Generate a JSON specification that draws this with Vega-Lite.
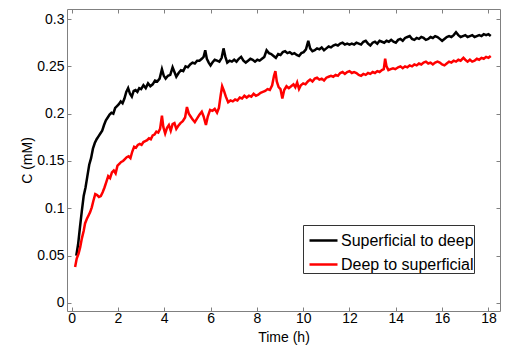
{
  "$schema": "https://vega.github.io/schema/vega-lite/v6.json",
  "width": 433,
  "height": 302,
  "autosize": {"type": "none"},
  "padding": {"left": 67, "top": 9, "right": 9, "bottom": 36},
  "background": "white",
  "config": {
    "view": {"stroke": "#808080", "strokeWidth": 1},
    "font": "Liberation Sans",
    "axis": {
      "labelFont": "Liberation Sans", "labelFontSize": 14, "labelColor": "black",
      "titleFont": "Liberation Sans", "titleFontSize": 14, "titleFontWeight": "normal", "titleColor": "black",
      "domain": false, "grid": false, "tickColor": "#808080", "tickSize": -4, "tickWidth": 1
    }
  },
  "data": {"values": [
    {"t":0.2,"c":0.050,"s":"Superficial to deep"},{"t":0.28,"c":0.062,"s":"Superficial to deep"},{"t":0.36,"c":0.080,"s":"Superficial to deep"},{"t":0.44,"c":0.097,"s":"Superficial to deep"},{"t":0.52,"c":0.113,"s":"Superficial to deep"},{"t":0.6,"c":0.122,"s":"Superficial to deep"},{"t":0.68,"c":0.134,"s":"Superficial to deep"},{"t":0.76,"c":0.146,"s":"Superficial to deep"},{"t":0.84,"c":0.153,"s":"Superficial to deep"},{"t":0.92,"c":0.163,"s":"Superficial to deep"},{"t":1.0,"c":0.169,"s":"Superficial to deep"},{"t":1.08,"c":0.173,"s":"Superficial to deep"},{"t":1.16,"c":0.176,"s":"Superficial to deep"},{"t":1.24,"c":0.179,"s":"Superficial to deep"},{"t":1.32,"c":0.182,"s":"Superficial to deep"},{"t":1.4,"c":0.188,"s":"Superficial to deep"},{"t":1.48,"c":0.193,"s":"Superficial to deep"},{"t":1.56,"c":0.196,"s":"Superficial to deep"},{"t":1.64,"c":0.199,"s":"Superficial to deep"},{"t":1.72,"c":0.201,"s":"Superficial to deep"},{"t":1.8,"c":0.200,"s":"Superficial to deep"},{"t":1.88,"c":0.206,"s":"Superficial to deep"},{"t":1.96,"c":0.208,"s":"Superficial to deep"},{"t":2.04,"c":0.210,"s":"Superficial to deep"},{"t":2.12,"c":0.213,"s":"Superficial to deep"},{"t":2.2,"c":0.211,"s":"Superficial to deep"},{"t":2.28,"c":0.216,"s":"Superficial to deep"},{"t":2.36,"c":0.223,"s":"Superficial to deep"},{"t":2.44,"c":0.227,"s":"Superficial to deep"},{"t":2.52,"c":0.221,"s":"Superficial to deep"},{"t":2.6,"c":0.218,"s":"Superficial to deep"},{"t":2.68,"c":0.224,"s":"Superficial to deep"},{"t":2.76,"c":0.225,"s":"Superficial to deep"},{"t":2.84,"c":0.223,"s":"Superficial to deep"},{"t":2.92,"c":0.227,"s":"Superficial to deep"},{"t":3.0,"c":0.226,"s":"Superficial to deep"},{"t":3.1,"c":0.230,"s":"Superficial to deep"},{"t":3.2,"c":0.227,"s":"Superficial to deep"},{"t":3.3,"c":0.232,"s":"Superficial to deep"},{"t":3.4,"c":0.229,"s":"Superficial to deep"},{"t":3.5,"c":0.231,"s":"Superficial to deep"},{"t":3.6,"c":0.235,"s":"Superficial to deep"},{"t":3.7,"c":0.234,"s":"Superficial to deep"},{"t":3.8,"c":0.237,"s":"Superficial to deep"},{"t":3.9,"c":0.247,"s":"Superficial to deep"},{"t":3.98,"c":0.240,"s":"Superficial to deep"},{"t":4.06,"c":0.237,"s":"Superficial to deep"},{"t":4.16,"c":0.240,"s":"Superficial to deep"},{"t":4.26,"c":0.241,"s":"Superficial to deep"},{"t":4.36,"c":0.249,"s":"Superficial to deep"},{"t":4.44,"c":0.244,"s":"Superficial to deep"},{"t":4.52,"c":0.239,"s":"Superficial to deep"},{"t":4.62,"c":0.243,"s":"Superficial to deep"},{"t":4.72,"c":0.246,"s":"Superficial to deep"},{"t":4.82,"c":0.245,"s":"Superficial to deep"},{"t":4.92,"c":0.250,"s":"Superficial to deep"},{"t":5.02,"c":0.249,"s":"Superficial to deep"},{"t":5.12,"c":0.252,"s":"Superficial to deep"},{"t":5.22,"c":0.254,"s":"Superficial to deep"},{"t":5.32,"c":0.253,"s":"Superficial to deep"},{"t":5.42,"c":0.256,"s":"Superficial to deep"},{"t":5.52,"c":0.256,"s":"Superficial to deep"},{"t":5.62,"c":0.258,"s":"Superficial to deep"},{"t":5.7,"c":0.260,"s":"Superficial to deep"},{"t":5.77,"c":0.267,"s":"Superficial to deep"},{"t":5.84,"c":0.258,"s":"Superficial to deep"},{"t":5.92,"c":0.254,"s":"Superficial to deep"},{"t":6.0,"c":0.251,"s":"Superficial to deep"},{"t":6.08,"c":0.254,"s":"Superficial to deep"},{"t":6.18,"c":0.257,"s":"Superficial to deep"},{"t":6.28,"c":0.256,"s":"Superficial to deep"},{"t":6.38,"c":0.255,"s":"Superficial to deep"},{"t":6.48,"c":0.259,"s":"Superficial to deep"},{"t":6.56,"c":0.269,"s":"Superficial to deep"},{"t":6.64,"c":0.260,"s":"Superficial to deep"},{"t":6.72,"c":0.254,"s":"Superficial to deep"},{"t":6.82,"c":0.256,"s":"Superficial to deep"},{"t":6.92,"c":0.255,"s":"Superficial to deep"},{"t":7.02,"c":0.257,"s":"Superficial to deep"},{"t":7.12,"c":0.255,"s":"Superficial to deep"},{"t":7.22,"c":0.258,"s":"Superficial to deep"},{"t":7.32,"c":0.260,"s":"Superficial to deep"},{"t":7.42,"c":0.256,"s":"Superficial to deep"},{"t":7.52,"c":0.254,"s":"Superficial to deep"},{"t":7.62,"c":0.256,"s":"Superficial to deep"},{"t":7.72,"c":0.258,"s":"Superficial to deep"},{"t":7.82,"c":0.257,"s":"Superficial to deep"},{"t":7.92,"c":0.255,"s":"Superficial to deep"},{"t":8.02,"c":0.257,"s":"Superficial to deep"},{"t":8.12,"c":0.256,"s":"Superficial to deep"},{"t":8.22,"c":0.258,"s":"Superficial to deep"},{"t":8.32,"c":0.260,"s":"Superficial to deep"},{"t":8.42,"c":0.267,"s":"Superficial to deep"},{"t":8.52,"c":0.264,"s":"Superficial to deep"},{"t":8.62,"c":0.263,"s":"Superficial to deep"},{"t":8.72,"c":0.261,"s":"Superficial to deep"},{"t":8.82,"c":0.259,"s":"Superficial to deep"},{"t":8.92,"c":0.263,"s":"Superficial to deep"},{"t":9.02,"c":0.262,"s":"Superficial to deep"},{"t":9.12,"c":0.265,"s":"Superficial to deep"},{"t":9.22,"c":0.266,"s":"Superficial to deep"},{"t":9.32,"c":0.264,"s":"Superficial to deep"},{"t":9.42,"c":0.265,"s":"Superficial to deep"},{"t":9.52,"c":0.263,"s":"Superficial to deep"},{"t":9.62,"c":0.264,"s":"Superficial to deep"},{"t":9.72,"c":0.262,"s":"Superficial to deep"},{"t":9.82,"c":0.261,"s":"Superficial to deep"},{"t":9.92,"c":0.264,"s":"Superficial to deep"},{"t":10.02,"c":0.265,"s":"Superficial to deep"},{"t":10.12,"c":0.268,"s":"Superficial to deep"},{"t":10.22,"c":0.277,"s":"Superficial to deep"},{"t":10.3,"c":0.269,"s":"Superficial to deep"},{"t":10.4,"c":0.266,"s":"Superficial to deep"},{"t":10.5,"c":0.267,"s":"Superficial to deep"},{"t":10.6,"c":0.269,"s":"Superficial to deep"},{"t":10.7,"c":0.268,"s":"Superficial to deep"},{"t":10.8,"c":0.270,"s":"Superficial to deep"},{"t":10.9,"c":0.267,"s":"Superficial to deep"},{"t":11.0,"c":0.269,"s":"Superficial to deep"},{"t":11.1,"c":0.271,"s":"Superficial to deep"},{"t":11.2,"c":0.270,"s":"Superficial to deep"},{"t":11.3,"c":0.272,"s":"Superficial to deep"},{"t":11.4,"c":0.273,"s":"Superficial to deep"},{"t":11.5,"c":0.272,"s":"Superficial to deep"},{"t":11.6,"c":0.274,"s":"Superficial to deep"},{"t":11.7,"c":0.275,"s":"Superficial to deep"},{"t":11.8,"c":0.273,"s":"Superficial to deep"},{"t":11.9,"c":0.274,"s":"Superficial to deep"},{"t":12.0,"c":0.273,"s":"Superficial to deep"},{"t":12.1,"c":0.274,"s":"Superficial to deep"},{"t":12.2,"c":0.273,"s":"Superficial to deep"},{"t":12.3,"c":0.275,"s":"Superficial to deep"},{"t":12.4,"c":0.274,"s":"Superficial to deep"},{"t":12.5,"c":0.273,"s":"Superficial to deep"},{"t":12.6,"c":0.276,"s":"Superficial to deep"},{"t":12.7,"c":0.277,"s":"Superficial to deep"},{"t":12.8,"c":0.274,"s":"Superficial to deep"},{"t":12.9,"c":0.272,"s":"Superficial to deep"},{"t":13.0,"c":0.275,"s":"Superficial to deep"},{"t":13.1,"c":0.276,"s":"Superficial to deep"},{"t":13.2,"c":0.274,"s":"Superficial to deep"},{"t":13.3,"c":0.277,"s":"Superficial to deep"},{"t":13.4,"c":0.276,"s":"Superficial to deep"},{"t":13.5,"c":0.275,"s":"Superficial to deep"},{"t":13.6,"c":0.277,"s":"Superficial to deep"},{"t":13.7,"c":0.276,"s":"Superficial to deep"},{"t":13.8,"c":0.278,"s":"Superficial to deep"},{"t":13.9,"c":0.276,"s":"Superficial to deep"},{"t":14.0,"c":0.275,"s":"Superficial to deep"},{"t":14.1,"c":0.278,"s":"Superficial to deep"},{"t":14.2,"c":0.279,"s":"Superficial to deep"},{"t":14.3,"c":0.277,"s":"Superficial to deep"},{"t":14.4,"c":0.280,"s":"Superficial to deep"},{"t":14.5,"c":0.281,"s":"Superficial to deep"},{"t":14.6,"c":0.282,"s":"Superficial to deep"},{"t":14.7,"c":0.279,"s":"Superficial to deep"},{"t":14.8,"c":0.278,"s":"Superficial to deep"},{"t":14.9,"c":0.280,"s":"Superficial to deep"},{"t":15.0,"c":0.279,"s":"Superficial to deep"},{"t":15.1,"c":0.281,"s":"Superficial to deep"},{"t":15.2,"c":0.280,"s":"Superficial to deep"},{"t":15.3,"c":0.278,"s":"Superficial to deep"},{"t":15.4,"c":0.279,"s":"Superficial to deep"},{"t":15.5,"c":0.281,"s":"Superficial to deep"},{"t":15.6,"c":0.280,"s":"Superficial to deep"},{"t":15.7,"c":0.282,"s":"Superficial to deep"},{"t":15.8,"c":0.281,"s":"Superficial to deep"},{"t":15.9,"c":0.279,"s":"Superficial to deep"},{"t":16.0,"c":0.277,"s":"Superficial to deep"},{"t":16.1,"c":0.279,"s":"Superficial to deep"},{"t":16.2,"c":0.281,"s":"Superficial to deep"},{"t":16.3,"c":0.282,"s":"Superficial to deep"},{"t":16.4,"c":0.281,"s":"Superficial to deep"},{"t":16.5,"c":0.283,"s":"Superficial to deep"},{"t":16.6,"c":0.286,"s":"Superficial to deep"},{"t":16.7,"c":0.283,"s":"Superficial to deep"},{"t":16.8,"c":0.281,"s":"Superficial to deep"},{"t":16.9,"c":0.282,"s":"Superficial to deep"},{"t":17.0,"c":0.283,"s":"Superficial to deep"},{"t":17.1,"c":0.281,"s":"Superficial to deep"},{"t":17.2,"c":0.282,"s":"Superficial to deep"},{"t":17.3,"c":0.283,"s":"Superficial to deep"},{"t":17.4,"c":0.281,"s":"Superficial to deep"},{"t":17.5,"c":0.282,"s":"Superficial to deep"},{"t":17.6,"c":0.283,"s":"Superficial to deep"},{"t":17.7,"c":0.282,"s":"Superficial to deep"},{"t":17.8,"c":0.284,"s":"Superficial to deep"},{"t":17.9,"c":0.283,"s":"Superficial to deep"},{"t":18.0,"c":0.284,"s":"Superficial to deep"},{"t":18.1,"c":0.282,"s":"Superficial to deep"},
    {"t":0.15,"c":0.038,"s":"Deep to superficial"},{"t":0.22,"c":0.047,"s":"Deep to superficial"},{"t":0.3,"c":0.052,"s":"Deep to superficial"},{"t":0.37,"c":0.059,"s":"Deep to superficial"},{"t":0.44,"c":0.068,"s":"Deep to superficial"},{"t":0.52,"c":0.076,"s":"Deep to superficial"},{"t":0.58,"c":0.084,"s":"Deep to superficial"},{"t":0.66,"c":0.089,"s":"Deep to superficial"},{"t":0.74,"c":0.093,"s":"Deep to superficial"},{"t":0.8,"c":0.096,"s":"Deep to superficial"},{"t":0.87,"c":0.101,"s":"Deep to superficial"},{"t":0.94,"c":0.108,"s":"Deep to superficial"},{"t":1.02,"c":0.115,"s":"Deep to superficial"},{"t":1.1,"c":0.114,"s":"Deep to superficial"},{"t":1.18,"c":0.112,"s":"Deep to superficial"},{"t":1.26,"c":0.113,"s":"Deep to superficial"},{"t":1.34,"c":0.117,"s":"Deep to superficial"},{"t":1.42,"c":0.122,"s":"Deep to superficial"},{"t":1.5,"c":0.128,"s":"Deep to superficial"},{"t":1.58,"c":0.134,"s":"Deep to superficial"},{"t":1.66,"c":0.132,"s":"Deep to superficial"},{"t":1.74,"c":0.138,"s":"Deep to superficial"},{"t":1.82,"c":0.140,"s":"Deep to superficial"},{"t":1.9,"c":0.137,"s":"Deep to superficial"},{"t":1.98,"c":0.145,"s":"Deep to superficial"},{"t":2.06,"c":0.147,"s":"Deep to superficial"},{"t":2.14,"c":0.149,"s":"Deep to superficial"},{"t":2.22,"c":0.150,"s":"Deep to superficial"},{"t":2.3,"c":0.152,"s":"Deep to superficial"},{"t":2.38,"c":0.154,"s":"Deep to superficial"},{"t":2.46,"c":0.155,"s":"Deep to superficial"},{"t":2.54,"c":0.153,"s":"Deep to superficial"},{"t":2.62,"c":0.160,"s":"Deep to superficial"},{"t":2.7,"c":0.165,"s":"Deep to superficial"},{"t":2.78,"c":0.164,"s":"Deep to superficial"},{"t":2.86,"c":0.167,"s":"Deep to superficial"},{"t":2.94,"c":0.168,"s":"Deep to superficial"},{"t":3.02,"c":0.167,"s":"Deep to superficial"},{"t":3.1,"c":0.170,"s":"Deep to superficial"},{"t":3.18,"c":0.171,"s":"Deep to superficial"},{"t":3.26,"c":0.172,"s":"Deep to superficial"},{"t":3.34,"c":0.174,"s":"Deep to superficial"},{"t":3.42,"c":0.173,"s":"Deep to superficial"},{"t":3.5,"c":0.177,"s":"Deep to superficial"},{"t":3.58,"c":0.178,"s":"Deep to superficial"},{"t":3.66,"c":0.181,"s":"Deep to superficial"},{"t":3.74,"c":0.180,"s":"Deep to superficial"},{"t":3.82,"c":0.184,"s":"Deep to superficial"},{"t":3.9,"c":0.198,"s":"Deep to superficial"},{"t":3.96,"c":0.186,"s":"Deep to superficial"},{"t":4.04,"c":0.179,"s":"Deep to superficial"},{"t":4.12,"c":0.185,"s":"Deep to superficial"},{"t":4.2,"c":0.188,"s":"Deep to superficial"},{"t":4.28,"c":0.182,"s":"Deep to superficial"},{"t":4.36,"c":0.189,"s":"Deep to superficial"},{"t":4.44,"c":0.190,"s":"Deep to superficial"},{"t":4.52,"c":0.184,"s":"Deep to superficial"},{"t":4.6,"c":0.187,"s":"Deep to superficial"},{"t":4.7,"c":0.190,"s":"Deep to superficial"},{"t":4.8,"c":0.192,"s":"Deep to superficial"},{"t":4.9,"c":0.196,"s":"Deep to superficial"},{"t":4.98,"c":0.207,"s":"Deep to superficial"},{"t":5.06,"c":0.200,"s":"Deep to superficial"},{"t":5.14,"c":0.197,"s":"Deep to superficial"},{"t":5.22,"c":0.194,"s":"Deep to superficial"},{"t":5.32,"c":0.191,"s":"Deep to superficial"},{"t":5.42,"c":0.195,"s":"Deep to superficial"},{"t":5.52,"c":0.199,"s":"Deep to superficial"},{"t":5.62,"c":0.202,"s":"Deep to superficial"},{"t":5.7,"c":0.197,"s":"Deep to superficial"},{"t":5.8,"c":0.188,"s":"Deep to superficial"},{"t":5.88,"c":0.197,"s":"Deep to superficial"},{"t":5.98,"c":0.204,"s":"Deep to superficial"},{"t":6.08,"c":0.203,"s":"Deep to superficial"},{"t":6.18,"c":0.205,"s":"Deep to superficial"},{"t":6.28,"c":0.201,"s":"Deep to superficial"},{"t":6.36,"c":0.206,"s":"Deep to superficial"},{"t":6.44,"c":0.220,"s":"Deep to superficial"},{"t":6.5,"c":0.229,"s":"Deep to superficial"},{"t":6.58,"c":0.224,"s":"Deep to superficial"},{"t":6.66,"c":0.218,"s":"Deep to superficial"},{"t":6.76,"c":0.212,"s":"Deep to superficial"},{"t":6.86,"c":0.214,"s":"Deep to superficial"},{"t":6.96,"c":0.213,"s":"Deep to superficial"},{"t":7.06,"c":0.215,"s":"Deep to superficial"},{"t":7.16,"c":0.214,"s":"Deep to superficial"},{"t":7.26,"c":0.217,"s":"Deep to superficial"},{"t":7.36,"c":0.216,"s":"Deep to superficial"},{"t":7.46,"c":0.219,"s":"Deep to superficial"},{"t":7.56,"c":0.217,"s":"Deep to superficial"},{"t":7.66,"c":0.219,"s":"Deep to superficial"},{"t":7.76,"c":0.218,"s":"Deep to superficial"},{"t":7.86,"c":0.221,"s":"Deep to superficial"},{"t":7.96,"c":0.219,"s":"Deep to superficial"},{"t":8.06,"c":0.220,"s":"Deep to superficial"},{"t":8.16,"c":0.222,"s":"Deep to superficial"},{"t":8.26,"c":0.223,"s":"Deep to superficial"},{"t":8.36,"c":0.224,"s":"Deep to superficial"},{"t":8.46,"c":0.226,"s":"Deep to superficial"},{"t":8.56,"c":0.225,"s":"Deep to superficial"},{"t":8.66,"c":0.230,"s":"Deep to superficial"},{"t":8.74,"c":0.240,"s":"Deep to superficial"},{"t":8.8,"c":0.245,"s":"Deep to superficial"},{"t":8.86,"c":0.234,"s":"Deep to superficial"},{"t":8.94,"c":0.228,"s":"Deep to superficial"},{"t":9.02,"c":0.226,"s":"Deep to superficial"},{"t":9.1,"c":0.216,"s":"Deep to superficial"},{"t":9.18,"c":0.225,"s":"Deep to superficial"},{"t":9.28,"c":0.229,"s":"Deep to superficial"},{"t":9.38,"c":0.227,"s":"Deep to superficial"},{"t":9.48,"c":0.229,"s":"Deep to superficial"},{"t":9.58,"c":0.231,"s":"Deep to superficial"},{"t":9.66,"c":0.228,"s":"Deep to superficial"},{"t":9.74,"c":0.233,"s":"Deep to superficial"},{"t":9.82,"c":0.226,"s":"Deep to superficial"},{"t":9.9,"c":0.230,"s":"Deep to superficial"},{"t":10.0,"c":0.232,"s":"Deep to superficial"},{"t":10.1,"c":0.231,"s":"Deep to superficial"},{"t":10.2,"c":0.234,"s":"Deep to superficial"},{"t":10.3,"c":0.236,"s":"Deep to superficial"},{"t":10.4,"c":0.234,"s":"Deep to superficial"},{"t":10.5,"c":0.237,"s":"Deep to superficial"},{"t":10.6,"c":0.238,"s":"Deep to superficial"},{"t":10.7,"c":0.236,"s":"Deep to superficial"},{"t":10.8,"c":0.237,"s":"Deep to superficial"},{"t":10.9,"c":0.235,"s":"Deep to superficial"},{"t":11.0,"c":0.238,"s":"Deep to superficial"},{"t":11.1,"c":0.239,"s":"Deep to superficial"},{"t":11.2,"c":0.240,"s":"Deep to superficial"},{"t":11.3,"c":0.239,"s":"Deep to superficial"},{"t":11.4,"c":0.241,"s":"Deep to superficial"},{"t":11.5,"c":0.240,"s":"Deep to superficial"},{"t":11.6,"c":0.243,"s":"Deep to superficial"},{"t":11.7,"c":0.244,"s":"Deep to superficial"},{"t":11.8,"c":0.242,"s":"Deep to superficial"},{"t":11.9,"c":0.244,"s":"Deep to superficial"},{"t":12.0,"c":0.245,"s":"Deep to superficial"},{"t":12.1,"c":0.243,"s":"Deep to superficial"},{"t":12.2,"c":0.244,"s":"Deep to superficial"},{"t":12.3,"c":0.243,"s":"Deep to superficial"},{"t":12.4,"c":0.241,"s":"Deep to superficial"},{"t":12.5,"c":0.240,"s":"Deep to superficial"},{"t":12.6,"c":0.242,"s":"Deep to superficial"},{"t":12.7,"c":0.241,"s":"Deep to superficial"},{"t":12.8,"c":0.243,"s":"Deep to superficial"},{"t":12.9,"c":0.242,"s":"Deep to superficial"},{"t":13.0,"c":0.244,"s":"Deep to superficial"},{"t":13.1,"c":0.243,"s":"Deep to superficial"},{"t":13.2,"c":0.245,"s":"Deep to superficial"},{"t":13.3,"c":0.244,"s":"Deep to superficial"},{"t":13.4,"c":0.246,"s":"Deep to superficial"},{"t":13.48,"c":0.247,"s":"Deep to superficial"},{"t":13.54,"c":0.258,"s":"Deep to superficial"},{"t":13.6,"c":0.250,"s":"Deep to superficial"},{"t":13.68,"c":0.246,"s":"Deep to superficial"},{"t":13.78,"c":0.247,"s":"Deep to superficial"},{"t":13.88,"c":0.248,"s":"Deep to superficial"},{"t":13.98,"c":0.247,"s":"Deep to superficial"},{"t":14.1,"c":0.249,"s":"Deep to superficial"},{"t":14.2,"c":0.250,"s":"Deep to superficial"},{"t":14.3,"c":0.248,"s":"Deep to superficial"},{"t":14.4,"c":0.250,"s":"Deep to superficial"},{"t":14.5,"c":0.249,"s":"Deep to superficial"},{"t":14.6,"c":0.251,"s":"Deep to superficial"},{"t":14.7,"c":0.250,"s":"Deep to superficial"},{"t":14.8,"c":0.252,"s":"Deep to superficial"},{"t":14.9,"c":0.251,"s":"Deep to superficial"},{"t":15.0,"c":0.253,"s":"Deep to superficial"},{"t":15.1,"c":0.252,"s":"Deep to superficial"},{"t":15.2,"c":0.254,"s":"Deep to superficial"},{"t":15.3,"c":0.255,"s":"Deep to superficial"},{"t":15.4,"c":0.253,"s":"Deep to superficial"},{"t":15.5,"c":0.254,"s":"Deep to superficial"},{"t":15.6,"c":0.252,"s":"Deep to superficial"},{"t":15.7,"c":0.254,"s":"Deep to superficial"},{"t":15.8,"c":0.255,"s":"Deep to superficial"},{"t":15.9,"c":0.254,"s":"Deep to superficial"},{"t":16.0,"c":0.252,"s":"Deep to superficial"},{"t":16.1,"c":0.251,"s":"Deep to superficial"},{"t":16.2,"c":0.253,"s":"Deep to superficial"},{"t":16.3,"c":0.255,"s":"Deep to superficial"},{"t":16.4,"c":0.254,"s":"Deep to superficial"},{"t":16.5,"c":0.256,"s":"Deep to superficial"},{"t":16.6,"c":0.255,"s":"Deep to superficial"},{"t":16.7,"c":0.257,"s":"Deep to superficial"},{"t":16.8,"c":0.256,"s":"Deep to superficial"},{"t":16.92,"c":0.259,"s":"Deep to superficial"},{"t":17.0,"c":0.257,"s":"Deep to superficial"},{"t":17.1,"c":0.255,"s":"Deep to superficial"},{"t":17.2,"c":0.257,"s":"Deep to superficial"},{"t":17.3,"c":0.255,"s":"Deep to superficial"},{"t":17.4,"c":0.256,"s":"Deep to superficial"},{"t":17.5,"c":0.258,"s":"Deep to superficial"},{"t":17.6,"c":0.257,"s":"Deep to superficial"},{"t":17.7,"c":0.259,"s":"Deep to superficial"},{"t":17.8,"c":0.258,"s":"Deep to superficial"},{"t":17.9,"c":0.260,"s":"Deep to superficial"},{"t":18.0,"c":0.259,"s":"Deep to superficial"},{"t":18.1,"c":0.261,"s":"Deep to superficial"}
  ]},
  "layer": [
    {
      "mark": {"type": "line", "strokeWidth": 2.5, "clip": true},
      "encoding": {
        "x": {"field": "t", "type": "quantitative",
          "scale": {"domain": [-0.2, 18.5], "nice": false, "zero": false},
          "axis": {"orient": "bottom", "values": [0,2,4,6,8,10,12,14,16,18], "title": "Time (h)", "labelPadding": 4, "titlePadding": 5, "labelFlush": false}},
        "y": {"field": "c", "type": "quantitative",
          "scale": {"domain": [-0.0085, 0.3106], "nice": false, "zero": false},
          "axis": {"orient": "left", "values": [0,0.05,0.1,0.15,0.2,0.25,0.3], "format": "~g", "title": "C (mM)", "labelPadding": 7, "titlePadding": 2, "labelFlush": false}},
        "color": {"field": "s", "type": "nominal",
          "scale": {"domain": ["Superficial to deep", "Deep to superficial"], "range": ["#000000", "#ff0000"]},
          "legend": {"orient": "none", "legendX": 236, "legendY": 216, "title": null,
            "strokeColor": "#333333", "fillColor": "white", "padding": 0, "symbolOffset": 5,
            "symbolType": "stroke", "symbolStrokeWidth": 2.5, "symbolSize": 784,
            "labelFont": "Liberation Sans", "labelFontSize": 16, "labelColor": "black", "labelOffset": 2, "rowPadding": -11}}
      }
    },
    {
      "mark": {"type": "line", "opacity": 0},
      "encoding": {
        "x": {"field": "t", "type": "quantitative",
          "scale": {"domain": [-0.2, 18.5], "nice": false, "zero": false},
          "axis": {"orient": "top", "values": [0,2,4,6,8,10,12,14,16,18], "labels": false, "title": null}},
        "y": {"field": "c", "type": "quantitative",
          "scale": {"domain": [-0.0085, 0.3106], "nice": false, "zero": false},
          "axis": {"orient": "right", "values": [0,0.05,0.1,0.15,0.2,0.25,0.3], "labels": false, "title": null}},
        "detail": {"field": "s"}
      }
    }
  ],
  "resolve": {"axis": {"x": "independent", "y": "independent"}}
}
